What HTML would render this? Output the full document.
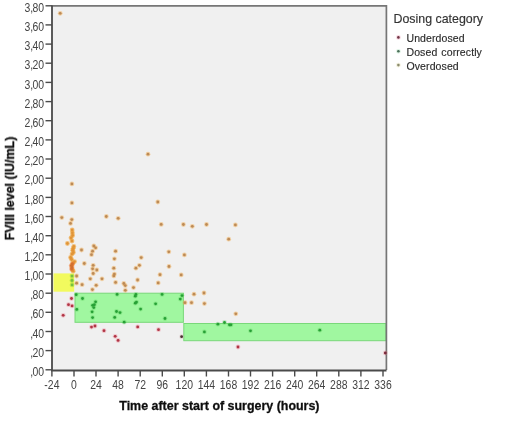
<!DOCTYPE html>
<html><head><meta charset="utf-8"><style>
html,body{margin:0;padding:0;background:#fff;width:520px;height:425px;overflow:hidden}
svg{display:block}
text{font-family:"Liberation Sans",sans-serif;filter:url(#tb)}
.tl{font-size:12px;fill:#444}
.tt{font-size:12.45px;font-weight:bold;fill:#111;stroke:#111;stroke-width:0.3px}
.lt{font-size:12.4px;fill:#333;stroke:#333;stroke-width:0.15px}
.li{font-size:10.5px;fill:#2a2a2a;stroke:#2a2a2a;stroke-width:0.15px;word-spacing:1px;letter-spacing:0.1px}
</style></head><body>
<svg width="520" height="425" viewBox="0 0 520 425">
<defs><filter id="bl" filterUnits="userSpaceOnUse" x="0" y="0" width="520" height="425"><feGaussianBlur stdDeviation="0.6"/></filter><filter id="tb" x="-10%" y="-20%" width="120%" height="140%"><feGaussianBlur stdDeviation="0.5"/></filter></defs>
<rect x="52" y="6" width="334" height="364" fill="#f0f0f0"/>
<rect x="53.5" y="273.4" width="20.7" height="18.3" fill="#f2fa5e"/>
<rect x="75.0" y="293.2" width="108.4" height="29.1" fill="#a0f7a0" stroke="#7ad87a" stroke-width="1"/>
<rect x="183.8" y="323.5" width="202.2" height="17.2" fill="#a0f7a0" stroke="#7ad87a" stroke-width="1"/>
<g filter="url(#bl)">
<circle cx="60.2" cy="13.3" r="2.4" fill="#f2a848" opacity="0.45"/>
<circle cx="148.0" cy="154.2" r="2.4" fill="#f2a848" opacity="0.45"/>
<circle cx="71.9" cy="183.9" r="2.4" fill="#f2a848" opacity="0.45"/>
<circle cx="71.9" cy="202.9" r="2.4" fill="#f2a848" opacity="0.45"/>
<circle cx="157.8" cy="202.0" r="2.4" fill="#f2a848" opacity="0.45"/>
<circle cx="61.8" cy="217.6" r="2.4" fill="#f2a848" opacity="0.45"/>
<circle cx="71.8" cy="219.6" r="2.4" fill="#f2a848" opacity="0.45"/>
<circle cx="70.5" cy="223.4" r="2.4" fill="#f2a848" opacity="0.45"/>
<circle cx="106.3" cy="216.5" r="2.4" fill="#f2a848" opacity="0.45"/>
<circle cx="118.2" cy="218.3" r="2.4" fill="#f2a848" opacity="0.45"/>
<circle cx="161.2" cy="224.4" r="2.4" fill="#f2a848" opacity="0.45"/>
<circle cx="183.4" cy="224.5" r="2.4" fill="#f2a848" opacity="0.45"/>
<circle cx="192.3" cy="226.3" r="2.4" fill="#f2a848" opacity="0.45"/>
<circle cx="206.5" cy="224.5" r="2.4" fill="#f2a848" opacity="0.45"/>
<circle cx="235.4" cy="224.9" r="2.4" fill="#f2a848" opacity="0.45"/>
<circle cx="228.7" cy="239.2" r="2.4" fill="#f2a848" opacity="0.45"/>
<circle cx="81.5" cy="250.0" r="2.4" fill="#f2a848" opacity="0.45"/>
<circle cx="84.3" cy="263.5" r="2.4" fill="#f2a848" opacity="0.45"/>
<circle cx="93.8" cy="245.9" r="2.4" fill="#f2a848" opacity="0.45"/>
<circle cx="95.6" cy="247.8" r="2.4" fill="#f2a848" opacity="0.45"/>
<circle cx="92.6" cy="251.2" r="2.4" fill="#f2a848" opacity="0.45"/>
<circle cx="91.5" cy="254.7" r="2.4" fill="#f2a848" opacity="0.45"/>
<circle cx="93.2" cy="265.3" r="2.4" fill="#f2a848" opacity="0.45"/>
<circle cx="92.6" cy="268.8" r="2.4" fill="#f2a848" opacity="0.45"/>
<circle cx="96.8" cy="270.0" r="2.4" fill="#f2a848" opacity="0.45"/>
<circle cx="93.2" cy="273.5" r="2.4" fill="#f2a848" opacity="0.45"/>
<circle cx="90.3" cy="278.8" r="2.4" fill="#f2a848" opacity="0.45"/>
<circle cx="102.0" cy="278.8" r="2.4" fill="#f2a848" opacity="0.45"/>
<circle cx="82.1" cy="284.7" r="2.4" fill="#f2a848" opacity="0.45"/>
<circle cx="96.2" cy="285.3" r="2.4" fill="#f2a848" opacity="0.45"/>
<circle cx="115.6" cy="251.2" r="2.4" fill="#f2a848" opacity="0.45"/>
<circle cx="114.4" cy="258.8" r="2.4" fill="#f2a848" opacity="0.45"/>
<circle cx="113.8" cy="268.2" r="2.4" fill="#f2a848" opacity="0.45"/>
<circle cx="114.4" cy="274.1" r="2.4" fill="#f2a848" opacity="0.45"/>
<circle cx="113.8" cy="275.9" r="2.4" fill="#f2a848" opacity="0.45"/>
<circle cx="115.6" cy="282.4" r="2.4" fill="#f2a848" opacity="0.45"/>
<circle cx="123.8" cy="283.5" r="2.4" fill="#f2a848" opacity="0.45"/>
<circle cx="76.6" cy="276.0" r="2.4" fill="#f2a848" opacity="0.45"/>
<circle cx="76.6" cy="283.2" r="2.4" fill="#f2a848" opacity="0.45"/>
<circle cx="92.4" cy="289.6" r="2.4" fill="#f2a848" opacity="0.45"/>
<circle cx="141.2" cy="257.6" r="2.4" fill="#f2a848" opacity="0.45"/>
<circle cx="139.4" cy="265.3" r="2.4" fill="#f2a848" opacity="0.45"/>
<circle cx="135.9" cy="268.2" r="2.4" fill="#f2a848" opacity="0.45"/>
<circle cx="137.6" cy="280.0" r="2.4" fill="#f2a848" opacity="0.45"/>
<circle cx="133.5" cy="287.6" r="2.4" fill="#f2a848" opacity="0.45"/>
<circle cx="125.3" cy="285.6" r="2.4" fill="#f2a848" opacity="0.45"/>
<circle cx="125.3" cy="290.3" r="2.4" fill="#f2a848" opacity="0.45"/>
<circle cx="160.0" cy="274.7" r="2.4" fill="#f2a848" opacity="0.45"/>
<circle cx="158.2" cy="282.9" r="2.4" fill="#f2a848" opacity="0.45"/>
<circle cx="168.8" cy="251.8" r="2.4" fill="#f2a848" opacity="0.45"/>
<circle cx="169.0" cy="266.5" r="2.4" fill="#f2a848" opacity="0.45"/>
<circle cx="184.4" cy="254.9" r="2.4" fill="#f2a848" opacity="0.45"/>
<circle cx="181.2" cy="274.9" r="2.4" fill="#f2a848" opacity="0.45"/>
<circle cx="194.0" cy="294.2" r="2.4" fill="#f2a848" opacity="0.45"/>
<circle cx="204.0" cy="293.0" r="2.4" fill="#f2a848" opacity="0.45"/>
<circle cx="185.0" cy="302.7" r="2.4" fill="#f2a848" opacity="0.45"/>
<circle cx="191.5" cy="302.7" r="2.4" fill="#f2a848" opacity="0.45"/>
<circle cx="204.4" cy="303.6" r="2.4" fill="#f2a848" opacity="0.45"/>
<circle cx="235.8" cy="313.8" r="2.4" fill="#f2a848" opacity="0.45"/>
<circle cx="60.2" cy="13.3" r="1.4" fill="#bc8a56"/>
<circle cx="148.0" cy="154.2" r="1.4" fill="#bc8a56"/>
<circle cx="71.9" cy="183.9" r="1.4" fill="#bc8a56"/>
<circle cx="71.9" cy="202.9" r="1.4" fill="#bc8a56"/>
<circle cx="157.8" cy="202.0" r="1.4" fill="#bc8a56"/>
<circle cx="61.8" cy="217.6" r="1.4" fill="#bc8a56"/>
<circle cx="71.8" cy="219.6" r="1.4" fill="#bc8a56"/>
<circle cx="70.5" cy="223.4" r="1.4" fill="#bc8a56"/>
<circle cx="106.3" cy="216.5" r="1.4" fill="#bc8a56"/>
<circle cx="118.2" cy="218.3" r="1.4" fill="#bc8a56"/>
<circle cx="161.2" cy="224.4" r="1.4" fill="#bc8a56"/>
<circle cx="183.4" cy="224.5" r="1.4" fill="#bc8a56"/>
<circle cx="192.3" cy="226.3" r="1.4" fill="#bc8a56"/>
<circle cx="206.5" cy="224.5" r="1.4" fill="#bc8a56"/>
<circle cx="235.4" cy="224.9" r="1.4" fill="#bc8a56"/>
<circle cx="228.7" cy="239.2" r="1.4" fill="#bc8a56"/>
<circle cx="81.5" cy="250.0" r="1.4" fill="#bc8a56"/>
<circle cx="84.3" cy="263.5" r="1.4" fill="#bc8a56"/>
<circle cx="93.8" cy="245.9" r="1.4" fill="#bc8a56"/>
<circle cx="95.6" cy="247.8" r="1.4" fill="#bc8a56"/>
<circle cx="92.6" cy="251.2" r="1.4" fill="#bc8a56"/>
<circle cx="91.5" cy="254.7" r="1.4" fill="#bc8a56"/>
<circle cx="93.2" cy="265.3" r="1.4" fill="#bc8a56"/>
<circle cx="92.6" cy="268.8" r="1.4" fill="#bc8a56"/>
<circle cx="96.8" cy="270.0" r="1.4" fill="#bc8a56"/>
<circle cx="93.2" cy="273.5" r="1.4" fill="#bc8a56"/>
<circle cx="90.3" cy="278.8" r="1.4" fill="#bc8a56"/>
<circle cx="102.0" cy="278.8" r="1.4" fill="#bc8a56"/>
<circle cx="82.1" cy="284.7" r="1.4" fill="#bc8a56"/>
<circle cx="96.2" cy="285.3" r="1.4" fill="#bc8a56"/>
<circle cx="115.6" cy="251.2" r="1.4" fill="#bc8a56"/>
<circle cx="114.4" cy="258.8" r="1.4" fill="#bc8a56"/>
<circle cx="113.8" cy="268.2" r="1.4" fill="#bc8a56"/>
<circle cx="114.4" cy="274.1" r="1.4" fill="#bc8a56"/>
<circle cx="113.8" cy="275.9" r="1.4" fill="#bc8a56"/>
<circle cx="115.6" cy="282.4" r="1.4" fill="#bc8a56"/>
<circle cx="123.8" cy="283.5" r="1.4" fill="#bc8a56"/>
<circle cx="76.6" cy="276.0" r="1.4" fill="#bc8a56"/>
<circle cx="76.6" cy="283.2" r="1.4" fill="#bc8a56"/>
<circle cx="92.4" cy="289.6" r="1.4" fill="#bc8a56"/>
<circle cx="141.2" cy="257.6" r="1.4" fill="#bc8a56"/>
<circle cx="139.4" cy="265.3" r="1.4" fill="#bc8a56"/>
<circle cx="135.9" cy="268.2" r="1.4" fill="#bc8a56"/>
<circle cx="137.6" cy="280.0" r="1.4" fill="#bc8a56"/>
<circle cx="133.5" cy="287.6" r="1.4" fill="#bc8a56"/>
<circle cx="125.3" cy="285.6" r="1.4" fill="#bc8a56"/>
<circle cx="125.3" cy="290.3" r="1.4" fill="#bc8a56"/>
<circle cx="160.0" cy="274.7" r="1.4" fill="#bc8a56"/>
<circle cx="158.2" cy="282.9" r="1.4" fill="#bc8a56"/>
<circle cx="168.8" cy="251.8" r="1.4" fill="#bc8a56"/>
<circle cx="169.0" cy="266.5" r="1.4" fill="#bc8a56"/>
<circle cx="184.4" cy="254.9" r="1.4" fill="#bc8a56"/>
<circle cx="181.2" cy="274.9" r="1.4" fill="#bc8a56"/>
<circle cx="194.0" cy="294.2" r="1.4" fill="#bc8a56"/>
<circle cx="204.0" cy="293.0" r="1.4" fill="#bc8a56"/>
<circle cx="185.0" cy="302.7" r="1.4" fill="#bc8a56"/>
<circle cx="191.5" cy="302.7" r="1.4" fill="#bc8a56"/>
<circle cx="204.4" cy="303.6" r="1.4" fill="#bc8a56"/>
<circle cx="235.8" cy="313.8" r="1.4" fill="#bc8a56"/>
<circle cx="72.4" cy="232.8" r="2.4" fill="#f0a030" opacity="0.6"/>
<circle cx="71.0" cy="237.8" r="2.4" fill="#f0a030" opacity="0.6"/>
<circle cx="67.4" cy="243.5" r="2.4" fill="#f0a030" opacity="0.6"/>
<circle cx="73.8" cy="246.4" r="2.4" fill="#f0a030" opacity="0.6"/>
<circle cx="72.7" cy="250.2" r="2.4" fill="#f0a030" opacity="0.6"/>
<circle cx="72.0" cy="254.1" r="2.4" fill="#f0a030" opacity="0.6"/>
<circle cx="70.6" cy="257.5" r="2.4" fill="#f0a030" opacity="0.6"/>
<circle cx="74.5" cy="261.6" r="2.4" fill="#f0a030" opacity="0.6"/>
<circle cx="72.4" cy="269.5" r="2.4" fill="#f0a030" opacity="0.6"/>
<circle cx="72.2" cy="230.0" r="2.4" fill="#f0a030" opacity="0.6"/>
<circle cx="72.6" cy="235.5" r="2.4" fill="#f0a030" opacity="0.6"/>
<circle cx="72.0" cy="241.0" r="2.4" fill="#f0a030" opacity="0.6"/>
<circle cx="73.2" cy="248.3" r="2.4" fill="#f0a030" opacity="0.6"/>
<circle cx="73.4" cy="252.5" r="2.4" fill="#f0a030" opacity="0.6"/>
<circle cx="71.6" cy="259.5" r="2.4" fill="#f0a030" opacity="0.6"/>
<circle cx="72.8" cy="263.5" r="2.4" fill="#f0a030" opacity="0.6"/>
<circle cx="73.2" cy="271.2" r="2.4" fill="#f0a030" opacity="0.6"/>
<circle cx="72.4" cy="232.8" r="1.4" fill="#e09438"/>
<circle cx="71.0" cy="237.8" r="1.4" fill="#e09438"/>
<circle cx="67.4" cy="243.5" r="1.4" fill="#e09438"/>
<circle cx="73.8" cy="246.4" r="1.4" fill="#e09438"/>
<circle cx="72.7" cy="250.2" r="1.4" fill="#e09438"/>
<circle cx="72.0" cy="254.1" r="1.4" fill="#e09438"/>
<circle cx="70.6" cy="257.5" r="1.4" fill="#e09438"/>
<circle cx="74.5" cy="261.6" r="1.4" fill="#e09438"/>
<circle cx="72.4" cy="269.5" r="1.4" fill="#e09438"/>
<circle cx="72.2" cy="230.0" r="1.4" fill="#e09438"/>
<circle cx="72.6" cy="235.5" r="1.4" fill="#e09438"/>
<circle cx="72.0" cy="241.0" r="1.4" fill="#e09438"/>
<circle cx="73.2" cy="248.3" r="1.4" fill="#e09438"/>
<circle cx="73.4" cy="252.5" r="1.4" fill="#e09438"/>
<circle cx="71.6" cy="259.5" r="1.4" fill="#e09438"/>
<circle cx="72.8" cy="263.5" r="1.4" fill="#e09438"/>
<circle cx="73.2" cy="271.2" r="1.4" fill="#e09438"/>
<circle cx="71.3" cy="265.6" r="2.4" fill="#f07830" opacity="0.55"/>
<circle cx="72.0" cy="267.0" r="2.4" fill="#f07830" opacity="0.55"/>
<circle cx="72.4" cy="263.8" r="2.4" fill="#f07830" opacity="0.55"/>
<circle cx="71.6" cy="269.0" r="2.4" fill="#f07830" opacity="0.55"/>
<circle cx="71.3" cy="265.6" r="1.4" fill="#d07030"/>
<circle cx="72.0" cy="267.0" r="1.4" fill="#d07030"/>
<circle cx="72.4" cy="263.8" r="1.4" fill="#d07030"/>
<circle cx="71.6" cy="269.0" r="1.4" fill="#d07030"/>
<circle cx="72.0" cy="276.1" r="2.4" fill="#80d030" opacity="0.4"/>
<circle cx="72.1" cy="284.9" r="2.4" fill="#80d030" opacity="0.4"/>
<circle cx="72.0" cy="280.5" r="2.4" fill="#80d030" opacity="0.4"/>
<circle cx="72.0" cy="276.1" r="1.4" fill="#78c040"/>
<circle cx="72.1" cy="284.9" r="1.4" fill="#78c040"/>
<circle cx="72.0" cy="280.5" r="1.4" fill="#78c040"/>
<circle cx="76.2" cy="294.7" r="2.4" fill="#50c850" opacity="0.3"/>
<circle cx="82.5" cy="298.5" r="2.4" fill="#50c850" opacity="0.3"/>
<circle cx="76.8" cy="309.4" r="2.4" fill="#50c850" opacity="0.3"/>
<circle cx="95.6" cy="301.8" r="2.4" fill="#50c850" opacity="0.3"/>
<circle cx="94.4" cy="304.7" r="2.4" fill="#50c850" opacity="0.3"/>
<circle cx="92.6" cy="305.3" r="2.4" fill="#50c850" opacity="0.3"/>
<circle cx="93.8" cy="307.6" r="2.4" fill="#50c850" opacity="0.3"/>
<circle cx="92.1" cy="311.8" r="2.4" fill="#50c850" opacity="0.3"/>
<circle cx="92.6" cy="317.6" r="2.4" fill="#50c850" opacity="0.3"/>
<circle cx="117.1" cy="294.4" r="2.4" fill="#50c850" opacity="0.3"/>
<circle cx="135.9" cy="294.4" r="2.4" fill="#50c850" opacity="0.3"/>
<circle cx="135.3" cy="296.2" r="2.4" fill="#50c850" opacity="0.3"/>
<circle cx="136.5" cy="302.1" r="2.4" fill="#50c850" opacity="0.3"/>
<circle cx="135.3" cy="303.2" r="2.4" fill="#50c850" opacity="0.3"/>
<circle cx="140.6" cy="309.1" r="2.4" fill="#50c850" opacity="0.3"/>
<circle cx="116.5" cy="311.5" r="2.4" fill="#50c850" opacity="0.3"/>
<circle cx="120.0" cy="312.6" r="2.4" fill="#50c850" opacity="0.3"/>
<circle cx="114.7" cy="317.4" r="2.4" fill="#50c850" opacity="0.3"/>
<circle cx="124.2" cy="322.2" r="2.4" fill="#50c850" opacity="0.3"/>
<circle cx="162.1" cy="294.4" r="2.4" fill="#50c850" opacity="0.3"/>
<circle cx="182.0" cy="295.6" r="2.4" fill="#50c850" opacity="0.3"/>
<circle cx="180.3" cy="299.1" r="2.4" fill="#50c850" opacity="0.3"/>
<circle cx="155.6" cy="303.8" r="2.4" fill="#50c850" opacity="0.3"/>
<circle cx="165.0" cy="318.5" r="2.4" fill="#50c850" opacity="0.3"/>
<circle cx="204.4" cy="331.9" r="2.4" fill="#50c850" opacity="0.3"/>
<circle cx="217.9" cy="324.2" r="2.4" fill="#50c850" opacity="0.3"/>
<circle cx="224.5" cy="322.5" r="2.4" fill="#50c850" opacity="0.3"/>
<circle cx="229.4" cy="324.8" r="2.4" fill="#50c850" opacity="0.3"/>
<circle cx="231.0" cy="324.8" r="2.4" fill="#50c850" opacity="0.3"/>
<circle cx="250.5" cy="330.8" r="2.4" fill="#50c850" opacity="0.3"/>
<circle cx="319.8" cy="330.2" r="2.4" fill="#50c850" opacity="0.3"/>
<circle cx="76.2" cy="294.7" r="1.4" fill="#26a036"/>
<circle cx="82.5" cy="298.5" r="1.4" fill="#26a036"/>
<circle cx="76.8" cy="309.4" r="1.4" fill="#26a036"/>
<circle cx="95.6" cy="301.8" r="1.4" fill="#26a036"/>
<circle cx="94.4" cy="304.7" r="1.4" fill="#26a036"/>
<circle cx="92.6" cy="305.3" r="1.4" fill="#26a036"/>
<circle cx="93.8" cy="307.6" r="1.4" fill="#26a036"/>
<circle cx="92.1" cy="311.8" r="1.4" fill="#26a036"/>
<circle cx="92.6" cy="317.6" r="1.4" fill="#26a036"/>
<circle cx="117.1" cy="294.4" r="1.4" fill="#26a036"/>
<circle cx="135.9" cy="294.4" r="1.4" fill="#26a036"/>
<circle cx="135.3" cy="296.2" r="1.4" fill="#26a036"/>
<circle cx="136.5" cy="302.1" r="1.4" fill="#26a036"/>
<circle cx="135.3" cy="303.2" r="1.4" fill="#26a036"/>
<circle cx="140.6" cy="309.1" r="1.4" fill="#26a036"/>
<circle cx="116.5" cy="311.5" r="1.4" fill="#26a036"/>
<circle cx="120.0" cy="312.6" r="1.4" fill="#26a036"/>
<circle cx="114.7" cy="317.4" r="1.4" fill="#26a036"/>
<circle cx="124.2" cy="322.2" r="1.4" fill="#26a036"/>
<circle cx="162.1" cy="294.4" r="1.4" fill="#26a036"/>
<circle cx="182.0" cy="295.6" r="1.4" fill="#26a036"/>
<circle cx="180.3" cy="299.1" r="1.4" fill="#26a036"/>
<circle cx="155.6" cy="303.8" r="1.4" fill="#26a036"/>
<circle cx="165.0" cy="318.5" r="1.4" fill="#26a036"/>
<circle cx="204.4" cy="331.9" r="1.4" fill="#26a036"/>
<circle cx="217.9" cy="324.2" r="1.4" fill="#26a036"/>
<circle cx="224.5" cy="322.5" r="1.4" fill="#26a036"/>
<circle cx="229.4" cy="324.8" r="1.4" fill="#26a036"/>
<circle cx="231.0" cy="324.8" r="1.4" fill="#26a036"/>
<circle cx="250.5" cy="330.8" r="1.4" fill="#26a036"/>
<circle cx="319.8" cy="330.2" r="1.4" fill="#26a036"/>
<circle cx="71.5" cy="298.5" r="2.4" fill="#ec7080" opacity="0.35"/>
<circle cx="68.5" cy="304.7" r="2.4" fill="#ec7080" opacity="0.35"/>
<circle cx="72.1" cy="305.9" r="2.4" fill="#ec7080" opacity="0.35"/>
<circle cx="63.2" cy="315.3" r="2.4" fill="#ec7080" opacity="0.35"/>
<circle cx="91.5" cy="327.1" r="2.4" fill="#ec7080" opacity="0.35"/>
<circle cx="95.0" cy="326.0" r="2.4" fill="#ec7080" opacity="0.35"/>
<circle cx="104.0" cy="330.7" r="2.4" fill="#ec7080" opacity="0.35"/>
<circle cx="115.2" cy="336.3" r="2.4" fill="#ec7080" opacity="0.35"/>
<circle cx="118.1" cy="340.4" r="2.4" fill="#ec7080" opacity="0.35"/>
<circle cx="137.7" cy="326.9" r="2.4" fill="#ec7080" opacity="0.35"/>
<circle cx="158.5" cy="329.7" r="2.4" fill="#ec7080" opacity="0.35"/>
<circle cx="238.0" cy="347.0" r="2.4" fill="#ec7080" opacity="0.35"/>
<circle cx="71.5" cy="298.5" r="1.4" fill="#b03444"/>
<circle cx="68.5" cy="304.7" r="1.4" fill="#b03444"/>
<circle cx="72.1" cy="305.9" r="1.4" fill="#b03444"/>
<circle cx="63.2" cy="315.3" r="1.4" fill="#b03444"/>
<circle cx="91.5" cy="327.1" r="1.4" fill="#b03444"/>
<circle cx="95.0" cy="326.0" r="1.4" fill="#b03444"/>
<circle cx="104.0" cy="330.7" r="1.4" fill="#b03444"/>
<circle cx="115.2" cy="336.3" r="1.4" fill="#b03444"/>
<circle cx="118.1" cy="340.4" r="1.4" fill="#b03444"/>
<circle cx="137.7" cy="326.9" r="1.4" fill="#b03444"/>
<circle cx="158.5" cy="329.7" r="1.4" fill="#b03444"/>
<circle cx="238.0" cy="347.0" r="1.4" fill="#b03444"/>
<circle cx="181.6" cy="336.7" r="2.4" fill="#c8a0a0" opacity="0.3"/>
<circle cx="181.6" cy="336.7" r="1.4" fill="#4a3030"/>
</g>
<path d="M52 5.9 H386.4 V370" fill="none" stroke="#767676" stroke-width="1.7"/>
<g filter="url(#bl)"><circle cx="385.3" cy="353.0" r="2.4" fill="#ec7080" opacity="0.3"/>
<circle cx="385.3" cy="353.0" r="1.4" fill="#7a2c3c"/></g>
<path d="M52 5.5 V370.5 H386.5" fill="none" stroke="#4a4a4a" stroke-width="1.8"/>
<line x1="45.5" y1="369.8" x2="52" y2="369.8" stroke="#4a4a4a" stroke-width="1.4"/>
<text x="44" y="376.0" text-anchor="end" class="tl" transform="translate(44 0) scale(0.87 1) translate(-44 0)">,<tspan dx="-1">00</tspan></text>
<line x1="45.5" y1="350.6" x2="52" y2="350.6" stroke="#4a4a4a" stroke-width="1.4"/>
<text x="44" y="356.8" text-anchor="end" class="tl" transform="translate(44 0) scale(0.87 1) translate(-44 0)">,<tspan dx="-1">20</tspan></text>
<line x1="45.5" y1="331.5" x2="52" y2="331.5" stroke="#4a4a4a" stroke-width="1.4"/>
<text x="44" y="337.7" text-anchor="end" class="tl" transform="translate(44 0) scale(0.87 1) translate(-44 0)">,<tspan dx="-1">40</tspan></text>
<line x1="45.5" y1="312.3" x2="52" y2="312.3" stroke="#4a4a4a" stroke-width="1.4"/>
<text x="44" y="318.5" text-anchor="end" class="tl" transform="translate(44 0) scale(0.87 1) translate(-44 0)">,<tspan dx="-1">60</tspan></text>
<line x1="45.5" y1="293.2" x2="52" y2="293.2" stroke="#4a4a4a" stroke-width="1.4"/>
<text x="44" y="299.4" text-anchor="end" class="tl" transform="translate(44 0) scale(0.87 1) translate(-44 0)">,<tspan dx="-1">80</tspan></text>
<line x1="45.5" y1="274.0" x2="52" y2="274.0" stroke="#4a4a4a" stroke-width="1.4"/>
<text x="44" y="280.2" text-anchor="end" class="tl" transform="translate(44 0) scale(0.87 1) translate(-44 0)">1,<tspan dx="-1">00</tspan></text>
<line x1="45.5" y1="254.8" x2="52" y2="254.8" stroke="#4a4a4a" stroke-width="1.4"/>
<text x="44" y="261.0" text-anchor="end" class="tl" transform="translate(44 0) scale(0.87 1) translate(-44 0)">1,<tspan dx="-1">20</tspan></text>
<line x1="45.5" y1="235.7" x2="52" y2="235.7" stroke="#4a4a4a" stroke-width="1.4"/>
<text x="44" y="241.9" text-anchor="end" class="tl" transform="translate(44 0) scale(0.87 1) translate(-44 0)">1,<tspan dx="-1">40</tspan></text>
<line x1="45.5" y1="216.5" x2="52" y2="216.5" stroke="#4a4a4a" stroke-width="1.4"/>
<text x="44" y="222.7" text-anchor="end" class="tl" transform="translate(44 0) scale(0.87 1) translate(-44 0)">1,<tspan dx="-1">60</tspan></text>
<line x1="45.5" y1="197.4" x2="52" y2="197.4" stroke="#4a4a4a" stroke-width="1.4"/>
<text x="44" y="203.6" text-anchor="end" class="tl" transform="translate(44 0) scale(0.87 1) translate(-44 0)">1,<tspan dx="-1">80</tspan></text>
<line x1="45.5" y1="178.2" x2="52" y2="178.2" stroke="#4a4a4a" stroke-width="1.4"/>
<text x="44" y="184.4" text-anchor="end" class="tl" transform="translate(44 0) scale(0.87 1) translate(-44 0)">2,<tspan dx="-1">00</tspan></text>
<line x1="45.5" y1="159.0" x2="52" y2="159.0" stroke="#4a4a4a" stroke-width="1.4"/>
<text x="44" y="165.2" text-anchor="end" class="tl" transform="translate(44 0) scale(0.87 1) translate(-44 0)">2,<tspan dx="-1">20</tspan></text>
<line x1="45.5" y1="139.9" x2="52" y2="139.9" stroke="#4a4a4a" stroke-width="1.4"/>
<text x="44" y="146.1" text-anchor="end" class="tl" transform="translate(44 0) scale(0.87 1) translate(-44 0)">2,<tspan dx="-1">40</tspan></text>
<line x1="45.5" y1="120.7" x2="52" y2="120.7" stroke="#4a4a4a" stroke-width="1.4"/>
<text x="44" y="126.9" text-anchor="end" class="tl" transform="translate(44 0) scale(0.87 1) translate(-44 0)">2,<tspan dx="-1">60</tspan></text>
<line x1="45.5" y1="101.6" x2="52" y2="101.6" stroke="#4a4a4a" stroke-width="1.4"/>
<text x="44" y="107.8" text-anchor="end" class="tl" transform="translate(44 0) scale(0.87 1) translate(-44 0)">2,<tspan dx="-1">80</tspan></text>
<line x1="45.5" y1="82.4" x2="52" y2="82.4" stroke="#4a4a4a" stroke-width="1.4"/>
<text x="44" y="88.6" text-anchor="end" class="tl" transform="translate(44 0) scale(0.87 1) translate(-44 0)">3,<tspan dx="-1">00</tspan></text>
<line x1="45.5" y1="63.2" x2="52" y2="63.2" stroke="#4a4a4a" stroke-width="1.4"/>
<text x="44" y="69.4" text-anchor="end" class="tl" transform="translate(44 0) scale(0.87 1) translate(-44 0)">3,<tspan dx="-1">20</tspan></text>
<line x1="45.5" y1="44.1" x2="52" y2="44.1" stroke="#4a4a4a" stroke-width="1.4"/>
<text x="44" y="50.3" text-anchor="end" class="tl" transform="translate(44 0) scale(0.87 1) translate(-44 0)">3,<tspan dx="-1">40</tspan></text>
<line x1="45.5" y1="24.9" x2="52" y2="24.9" stroke="#4a4a4a" stroke-width="1.4"/>
<text x="44" y="31.1" text-anchor="end" class="tl" transform="translate(44 0) scale(0.87 1) translate(-44 0)">3,<tspan dx="-1">60</tspan></text>
<line x1="45.5" y1="5.8" x2="52" y2="5.8" stroke="#4a4a4a" stroke-width="1.4"/>
<text x="44" y="12.0" text-anchor="end" class="tl" transform="translate(44 0) scale(0.87 1) translate(-44 0)">3,<tspan dx="-1">80</tspan></text>
<line x1="51.9" y1="370" x2="51.9" y2="376.5" stroke="#4a4a4a" stroke-width="1.4"/>
<text x="51.9" y="389.2" text-anchor="middle" class="tl" transform="translate(51.9 0) scale(0.87 1) translate(-51.9 0)">-24</text>
<line x1="74.0" y1="370" x2="74.0" y2="376.5" stroke="#4a4a4a" stroke-width="1.4"/>
<text x="74.0" y="389.2" text-anchor="middle" class="tl" transform="translate(74.0 0) scale(0.87 1) translate(-74.0 0)">0</text>
<line x1="96.0" y1="370" x2="96.0" y2="376.5" stroke="#4a4a4a" stroke-width="1.4"/>
<text x="96.0" y="389.2" text-anchor="middle" class="tl" transform="translate(96.0 0) scale(0.87 1) translate(-96.0 0)">24</text>
<line x1="118.1" y1="370" x2="118.1" y2="376.5" stroke="#4a4a4a" stroke-width="1.4"/>
<text x="118.1" y="389.2" text-anchor="middle" class="tl" transform="translate(118.1 0) scale(0.87 1) translate(-118.1 0)">48</text>
<line x1="140.2" y1="370" x2="140.2" y2="376.5" stroke="#4a4a4a" stroke-width="1.4"/>
<text x="140.2" y="389.2" text-anchor="middle" class="tl" transform="translate(140.2 0) scale(0.87 1) translate(-140.2 0)">72</text>
<line x1="162.3" y1="370" x2="162.3" y2="376.5" stroke="#4a4a4a" stroke-width="1.4"/>
<text x="162.3" y="389.2" text-anchor="middle" class="tl" transform="translate(162.3 0) scale(0.87 1) translate(-162.3 0)">96</text>
<line x1="184.3" y1="370" x2="184.3" y2="376.5" stroke="#4a4a4a" stroke-width="1.4"/>
<text x="184.3" y="389.2" text-anchor="middle" class="tl" transform="translate(184.3 0) scale(0.87 1) translate(-184.3 0)">120</text>
<line x1="206.4" y1="370" x2="206.4" y2="376.5" stroke="#4a4a4a" stroke-width="1.4"/>
<text x="206.4" y="389.2" text-anchor="middle" class="tl" transform="translate(206.4 0) scale(0.87 1) translate(-206.4 0)">144</text>
<line x1="228.5" y1="370" x2="228.5" y2="376.5" stroke="#4a4a4a" stroke-width="1.4"/>
<text x="228.5" y="389.2" text-anchor="middle" class="tl" transform="translate(228.5 0) scale(0.87 1) translate(-228.5 0)">168</text>
<line x1="250.5" y1="370" x2="250.5" y2="376.5" stroke="#4a4a4a" stroke-width="1.4"/>
<text x="250.5" y="389.2" text-anchor="middle" class="tl" transform="translate(250.5 0) scale(0.87 1) translate(-250.5 0)">192</text>
<line x1="272.6" y1="370" x2="272.6" y2="376.5" stroke="#4a4a4a" stroke-width="1.4"/>
<text x="272.6" y="389.2" text-anchor="middle" class="tl" transform="translate(272.6 0) scale(0.87 1) translate(-272.6 0)">216</text>
<line x1="294.7" y1="370" x2="294.7" y2="376.5" stroke="#4a4a4a" stroke-width="1.4"/>
<text x="294.7" y="389.2" text-anchor="middle" class="tl" transform="translate(294.7 0) scale(0.87 1) translate(-294.7 0)">240</text>
<line x1="316.7" y1="370" x2="316.7" y2="376.5" stroke="#4a4a4a" stroke-width="1.4"/>
<text x="316.7" y="389.2" text-anchor="middle" class="tl" transform="translate(316.7 0) scale(0.87 1) translate(-316.7 0)">264</text>
<line x1="338.8" y1="370" x2="338.8" y2="376.5" stroke="#4a4a4a" stroke-width="1.4"/>
<text x="338.8" y="389.2" text-anchor="middle" class="tl" transform="translate(338.8 0) scale(0.87 1) translate(-338.8 0)">288</text>
<line x1="360.9" y1="370" x2="360.9" y2="376.5" stroke="#4a4a4a" stroke-width="1.4"/>
<text x="360.9" y="389.2" text-anchor="middle" class="tl" transform="translate(360.9 0) scale(0.87 1) translate(-360.9 0)">312</text>
<line x1="383.0" y1="370" x2="383.0" y2="376.5" stroke="#4a4a4a" stroke-width="1.4"/>
<text x="383.0" y="389.2" text-anchor="middle" class="tl" transform="translate(383.0 0) scale(0.87 1) translate(-383.0 0)">336</text>
<text x="219.4" y="409.7" text-anchor="middle" class="tt">Time after start of surgery (hours)</text>
<text transform="translate(14 188.5) rotate(-90)" x="0" y="0" text-anchor="middle" class="tt">FVIII level (IU/mL)</text>
<text x="393.5" y="22.6" class="lt">Dosing category</text>
<circle cx="398.4" cy="37.4" r="2.4" fill="#f4c8d4" opacity="0.7"/><circle cx="398.4" cy="37.4" r="1.3" fill="#6e3444"/>
<text x="406.5" y="41.8" class="li">Underdosed</text>
<circle cx="398.4" cy="51.3" r="2.4" fill="#d0ecd8" opacity="0.7"/><circle cx="398.4" cy="51.3" r="1.3" fill="#4a6e58"/>
<text x="406.5" y="56.2" class="li">Dosed correctly</text>
<circle cx="398.4" cy="65.1" r="2.4" fill="#ecead0" opacity="0.7"/><circle cx="398.4" cy="65.1" r="1.3" fill="#8a8a6c"/>
<text x="406.5" y="70.0" class="li">Overdosed</text>
</svg>
</body></html>
